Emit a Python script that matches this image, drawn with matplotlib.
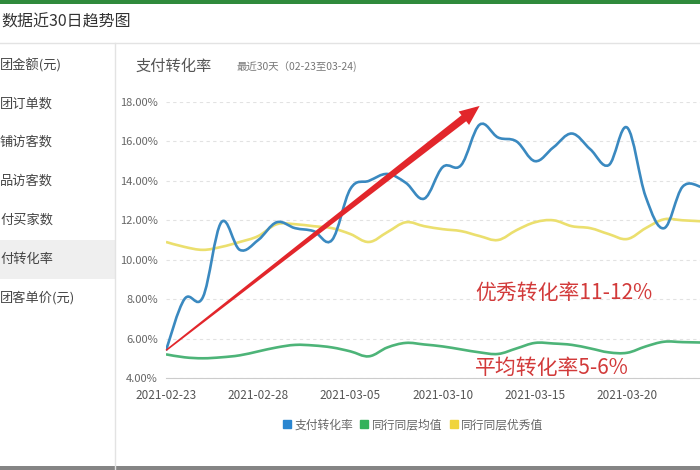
import numpy as np
import pandas as pd
import matplotlib
matplotlib.use('Agg')
import matplotlib.pyplot as plt
from matplotlib.path import Path
from matplotlib.patches import PathPatch, Polygon, Rectangle
from matplotlib.lines import Line2D
from matplotlib.transforms import IdentityTransform

plt.rcParams['font.family'] = ['Noto Sans CJK SC', 'DejaVu Sans']

# data (percent)
dates = pd.date_range('2021-02-23', '2021-03-24').strftime('%Y-%m-%d').tolist()
pay_rate = [5.4, 8.0, 8.1, 11.9, 10.5, 11.0, 11.9, 11.6, 11.45, 11.0,
            13.6, 14.0, 14.35, 13.9, 13.1, 14.7, 14.8, 16.85, 16.2, 16.0,
            15.0, 15.7, 16.4, 15.6, 14.8, 16.7, 13.2, 11.6, 13.7, 13.7]
peer_avg = [5.2, 5.05, 5.0, 5.05, 5.15, 5.35, 5.55, 5.68, 5.65, 5.55,
            5.35, 5.1, 5.55, 5.78, 5.7, 5.6, 5.45, 5.3, 5.22, 5.5,
            5.78, 5.75, 5.68, 5.5, 5.3, 5.28, 5.6, 5.84, 5.82, 5.8]
peer_top = [10.9, 10.65, 10.5, 10.65, 10.9, 11.2, 11.8, 11.8, 11.7, 11.6,
            11.3, 10.9, 11.4, 11.9, 11.7, 11.55, 11.45, 11.2, 11.0, 11.5,
            11.9, 12.0, 11.7, 11.6, 11.3, 11.05, 11.6, 12.05, 12.0, 11.95]
series_names = ['支付转化率', '同行同层均值', '同行同层优秀值']
menu_items = ['团金额(元)', '团订单数', '铺访客数', '品访客数', '付买家数', '付转化率', '团客单价(元)']
y_ticks = [4, 6, 8, 10, 12, 14, 16, 18]
x_tick_idx = [0, 5, 10, 15, 20, 25]

line_colors = ['#3a89c0', '#4db478', '#ebdf6e']
legend_colors = ['#2a86d0', '#33b25a', '#f0d43a']

W, H = 700, 470
fig = plt.figure(figsize=(7, 4.7), dpi=100)


def fx(px):
    return px / W


def fy(py):
    return 1 - py / H


# page chrome
fig.add_artist(Rectangle((0, fy(4)), 1, 4 / H, color='#2f8a3c', lw=0))
fig.add_artist(Line2D([0, 1], [fy(43), fy(43)], color='#e3e3e3', lw=1))
fig.add_artist(Line2D([fx(115), fx(115)], [fy(43), 0], color='#e3e3e3', lw=1))
fig.add_artist(Rectangle((0, 0), 1, 4 / H, color='#858585', lw=0))
fig.text(fx(1), fy(22), '数据近30日趋势图', fontsize=11.5, color='#333333', va='center')

# sidebar
fig.add_artist(Rectangle((0, fy(279)), fx(115), 39 / H, color='#efefef', lw=0))
for i, name in enumerate(menu_items):
    fig.text(fx(0), fy(65 + i * 38.8), name, fontsize=9.5, color='#444444', va='center')

fig.text(fx(135), fy(66), '支付转化率', fontsize=11, color='#555555', va='center')
fig.text(fx(237), fy(67), '最近30天（02-23至03-24)', fontsize=7.5, color='#777777', va='center')

# chart
ax = fig.add_axes([fx(166), fy(378), 535 / W, 276 / H])
ax.set_xlim(0, len(dates) - 1)
ax.set_ylim(4, 18)


def smooth_path(x, y, s=0.18):
    pts = np.column_stack([x, y])
    n = len(pts)
    verts = [pts[0]]
    codes = [Path.MOVETO]
    for i in range(n - 1):
        p0 = pts[max(i - 1, 0)]
        p1 = pts[i]
        p2 = pts[i + 1]
        p3 = pts[min(i + 2, n - 1)]
        verts += [p1 + (p2 - p0) * s, p2 - (p3 - p1) * s, p2]
        codes += [Path.CURVE4] * 3
    return Path(verts, codes)


xs = np.arange(len(dates))
for vals, c in zip([peer_top, peer_avg, pay_rate], [line_colors[2], line_colors[1], line_colors[0]]):
    ax.add_patch(PathPatch(smooth_path(xs, vals), fill=False, edgecolor=c, lw=1.9, zorder=3))

ax.set_yticks(y_ticks)
ax.set_yticklabels([f'{v:.2f}%' for v in y_ticks])
ax.set_xticks(x_tick_idx)
ax.set_xticklabels([dates[i] for i in x_tick_idx])
ax.tick_params(axis='y', length=0, pad=6, labelsize=8, labelcolor='#666666')
ax.tick_params(axis='x', length=0, pad=8, labelsize=8.5, labelcolor='#555555')
ax.yaxis.grid(True, linestyle=(0, (3, 3)), color='#e2e2e2', lw=0.8)
for side in ['top', 'right', 'left']:
    ax.spines[side].set_visible(False)
ax.spines['bottom'].set_color('#cccccc')

# hand-drawn red arrow (tapered)
arrow_from = (0, 5.4)
arrow_to = (17, 17.8)
p0 = ax.transData.transform(arrow_from)
p1 = ax.transData.transform(arrow_to)
u = (p1 - p0) / np.linalg.norm(p1 - p0)
nrm = np.array([-u[1], u[0]])
base = p1 - u * 20
poly = [p0 + nrm * 0.8, base + nrm * 3.8, base + nrm * 8.5, p1,
        base - nrm * 8.5, base - nrm * 3.8, p0 - nrm * 0.8]
fig.add_artist(Polygon(poly, closed=True, color='#e2262b', lw=0,
                       transform=IdentityTransform(), zorder=5))

ax.text(16.75, 8.34, '优秀转化率11-12%', color='#d23a3a', fontsize=15, va='center', zorder=6)
ax.text(16.75, 4.5, '平均转化率5-6%', color='#d23a3a', fontsize=15, va='center', zorder=6)

# legend
handles = [Line2D([], [], marker='s', linestyle='', markersize=6, color=c) for c in legend_colors]
fig.legend(handles, series_names, loc='center', bbox_to_anchor=(fx(413), fy(425)),
           ncol=3, frameon=False, fontsize=8.5, handlelength=0.7, handletextpad=0.3,
           columnspacing=0.6, labelcolor='#666666')

plt.savefig('out.png', dpi=100)
